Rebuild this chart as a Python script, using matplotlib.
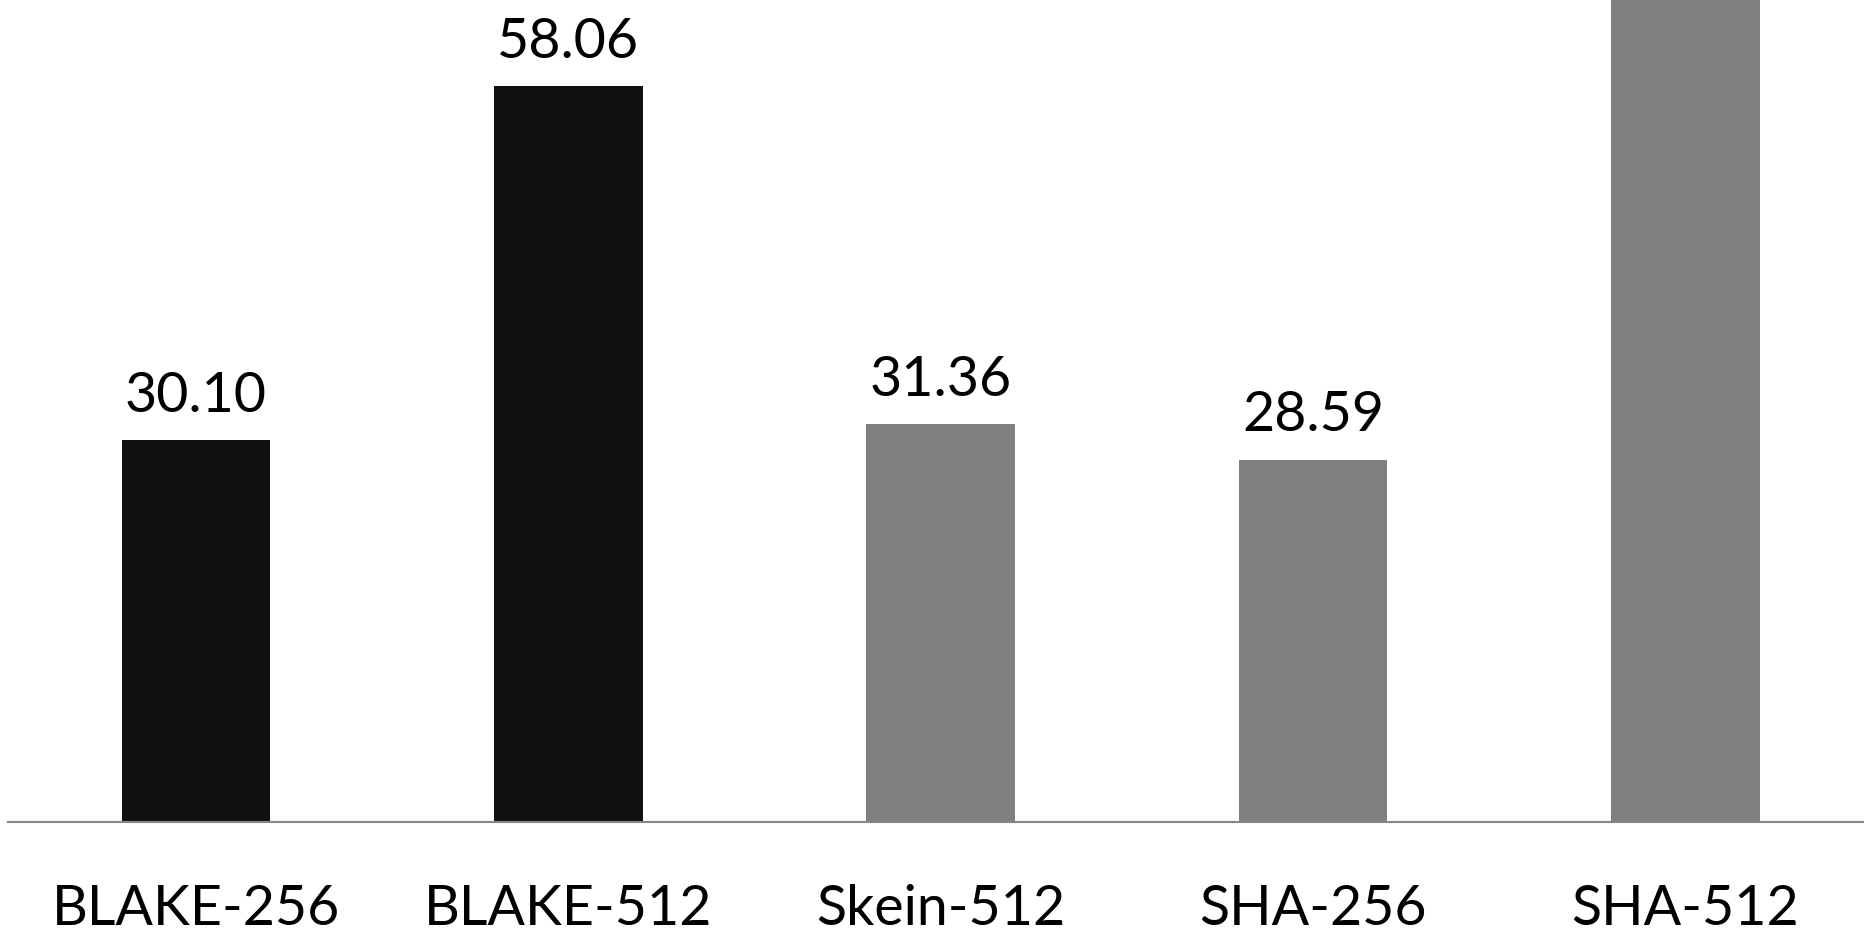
import matplotlib
matplotlib.use("Agg")
import matplotlib.pyplot as plt

categories = ["BLAKE-256", "BLAKE-512", "Skein-512", "SHA-256", "SHA-512"]
values = [30.10, 58.06, 31.36, 28.59, 70.00]
value_labels = ["30.10", "58.06", "31.36", "28.59", ""]
colors = ["#111111", "#111111", "#808080", "#808080", "#808080"]

plt.rcParams['font.family'] = ['Lato', 'DejaVu Sans']

W, H = 1864, 932
fig = plt.figure(figsize=(W / 100, H / 100), dpi=100)
base_px = 821.5
ax = fig.add_axes([8 / W, 1 - base_px / H, 1 - 8 / W, base_px / H])

x = list(range(len(categories)))
ax.bar(x, values, width=0.4, color=colors, zorder=2)
ax.set_xlim(-0.505, 4.48)
ax.set_ylim(0, base_px / 12.66)

for xi, v, lab in zip(x, values, value_labels):
    if lab:
        ax.annotate(lab, (xi, v), xytext=(0, 20.5), textcoords="offset points",
                    ha="center", va="baseline", fontsize=40, color="black")

for s in ["top", "right", "left"]:
    ax.spines[s].set_visible(False)
ax.spines["bottom"].set_color("#868686")
ax.spines["bottom"].set_linewidth(1.5)
ax.spines["bottom"].set_zorder(3)
ax.set_yticks([])
ax.set_xticks(x)
ax.set_xticklabels(categories, fontsize=40)
ax.tick_params(axis="x", length=0, pad=74.5)
for t in ax.get_xticklabels():
    t.set_va("baseline")

fig.savefig("out.png", dpi=100)
